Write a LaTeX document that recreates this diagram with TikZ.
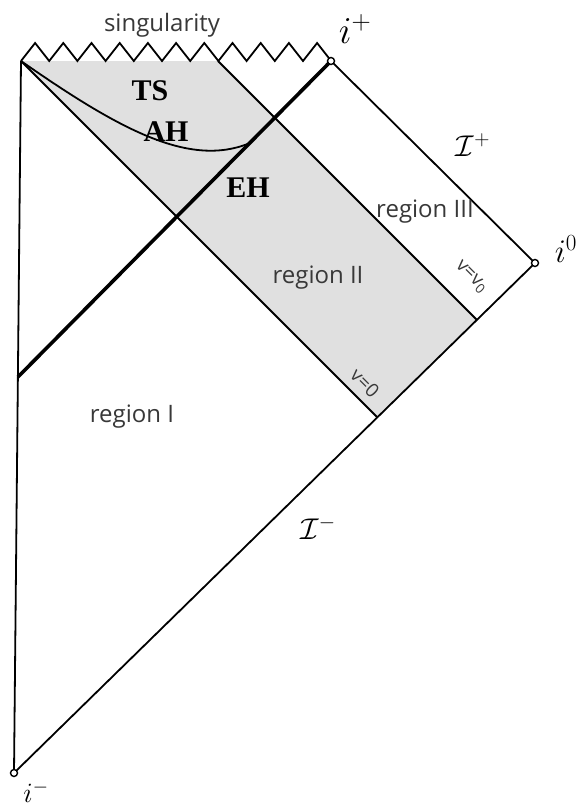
\documentclass[tikz,border=0pt]{standalone}
\usepackage{fix-cm}
\usepackage{fontspec}
\setmainfont{Open Sans}
\newfontfamily\serifbold{Liberation Serif}
\usetikzlibrary{calc}
\begin{document}
\begin{tikzpicture}[x=1pt,y=-1pt,
  edge/.style={line width=1.8pt, line join=miter},
  thickedge/.style={line width=3.6pt},
  lbl/.style={text=black!78, font=\fontsize{24}{28}\selectfont, inner sep=0pt},
  vlbl/.style={text=black!78, font=\fontsize{19}{22}\selectfont, inner sep=0pt, rotate=-45},
  bigl/.style={font=\serifbold\bfseries\fontsize{30}{34}\selectfont, inner sep=0pt},
  mlbl/.style={inner sep=0pt},
  endpt/.style={circle, draw, fill=white, line width=1.4pt, minimum size=7pt, inner sep=0pt}]
\useasboundingbox (0,0) rectangle (581,809);
\fill[white] (0,0) rectangle (581,809);
% key points
\coordinate (tl) at (21,61);
\coordinate (ip) at (331,61);
\coordinate (io) at (535,263);
\coordinate (im) at (14,773);
\coordinate (s0) at (218,61);
\coordinate (a0) at (377.3,417.3);
\coordinate (a1) at (476.9,319.9);
\coordinate (th) at (17.9,377);
\coordinate (ahend) at (250,143);
% shaded strip (region II)
\fill[black!12] (tl) -- (s0) -- (a1) -- (a0) -- cycle;
% boundary
\draw[edge] (tl) -- (im) -- (io) -- (ip);
\draw[edge] (tl) \foreach \k in {0,...,10} { -- ++(14.1,-18) -- ++(14.1,18) };
% null lines v=0, v=v0
\draw[edge] (tl) -- (a0);
\draw[edge] (s0) -- (a1);
% thick shell / horizon line
\draw[thickedge] (th) -- (ip);
% apparent horizon curve
\draw[line width=1.8pt] (tl) .. controls (120,130) and (190,168) .. (ahend);
% end points
\node[endpt] (nip) at (ip) {};
\node[endpt] (nio) at (io) {};
\node[endpt] (nim) at (im) {};
% labels
\node[lbl] (sing) at (162,25) {singularity};
\node[mlbl, font=\fontsize{38}{40}\selectfont] (lip) at (355,29) {$i^+$};
\node[mlbl, font=\fontsize{33}{36}\selectfont] (lio) at (566,249) {$i^0$};
\node[mlbl, font=\fontsize{28}{32}\selectfont] (lim) at (36,792) {$i^-$};
\node[mlbl, font=\fontsize{30}{34}\selectfont] (scrp) at (473,145) {$\mathcal{I}^+$};
\node[mlbl, font=\fontsize{30}{34}\selectfont] (scrm) at (318,528) {$\mathcal{I}^-$};
\node[bigl] (ts) at (150,91) {TS};
\node[bigl] (ah) at (166,132) {AH};
\node[bigl] (eh) at (248,188) {EH};
\node[lbl] (r3) at (425,212) {region III};
\node[lbl] (r2) at (318,278) {region II};
\node[lbl] (r1) at (132,417) {region I};
\node[vlbl] (vv0) at (471,277) {v=v\textsubscript{0}};
\node[vlbl] (v0) at (365,383) {v=0};
\end{tikzpicture}
\end{document}
